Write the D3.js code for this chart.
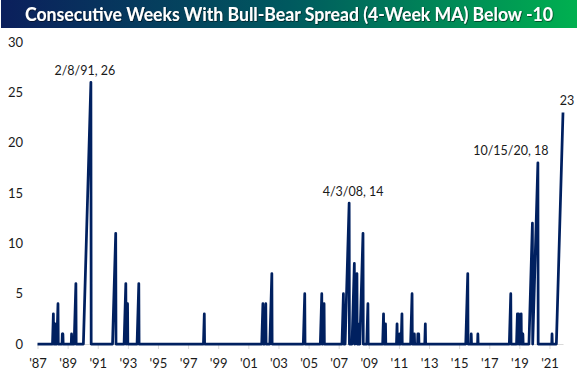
<!DOCTYPE html>
<html>
<head>
<meta charset="utf-8">
<script src="https://cdn.jsdelivr.net/npm/d3@7"></script>
<style>
  body { margin: 0; background: #fff; }
  text { font-family: Lato, "Open Sans", sans-serif; }
</style>
</head>
<body>
<div id="chart"></div>
<script>
const title = "Consecutive Weeks With Bull-Bear Spread (4-Week MA) Below -10";

// weekly series, first and last week shown
const firstWeek = "1987-07-24";
const lastWeek = "2022-06-16";

// each streak: week it ended and how many weeks it ran (series climbs 1..n then back to 0)
const streakEnds = [
  "1988-08-12", "1988-09-23", "1988-12-02", "1989-03-17", "1989-03-31", "1989-10-27",
  "1990-02-09", "1991-02-08", "1992-10-02", "1993-06-04", "1993-07-16", "1994-04-15",
  "1998-08-21", "2002-07-12", "2002-09-20", "2003-02-14", "2005-04-22", "2006-06-09",
  "2006-08-04", "2007-11-16", "2008-04-03", "2008-08-07", "2008-10-09", "2008-11-13",
  "2009-03-05", "2009-07-02", "2010-07-16", "2010-09-02", "2011-06-09", "2011-08-11",
  "2011-10-06", "2012-06-07", "2012-08-02", "2012-10-25", "2012-11-15", "2013-04-25",
  "2016-02-18", "2016-05-12", "2016-10-20", "2018-12-27", "2019-06-06", "2019-07-04",
  "2019-09-05", "2019-10-17", "2020-06-04", "2020-10-15", "2021-09-23", "2022-06-16"
];
const streakLengths = [
  3, 2, 4, 1, 1, 1,
  6, 26, 11, 6, 4, 6,
  3, 4, 4, 7, 5, 5,
  4, 5, 14, 8, 7, 2,
  11, 4, 3, 2, 2, 1,
  3, 5, 1, 1, 1, 2,
  7, 1, 1, 5, 3, 3,
  3, 1, 12, 18, 1, 23
];

const yTicks = [0, 5, 10, 15, 20, 25, 30];
const xTickYears = [1987, 1989, 1991, 1993, 1995, 1997, 1999, 2001, 2003, 2005,
                    2007, 2009, 2011, 2013, 2015, 2017, 2019, 2021];

const labelDates = ["1991-02-08", "2008-04-03", "2020-10-15", "2022-06-16"];
const labelValues = [26, 14, 18, 23];
const labelTexts = ["2/8/91, 26", "4/3/08, 14", "10/15/20, 18", "23"];

const W = 578, H = 374;
const parse = d3.utcParse("%Y-%m-%d");
const week = (d, k) => d3.utcDay.offset(d, 7 * k);

const svg = d3.select("#chart").append("svg")
  .attr("width", W)
  .attr("height", H);

// title bar
const defs = svg.append("defs");
const grad = defs.append("linearGradient").attr("id", "tg")
  .attr("x1", "0%").attr("x2", "100%").attr("y1", "0%").attr("y2", "0%");
grad.append("stop").attr("offset", "0%").attr("stop-color", "#0b1f5c");
grad.append("stop").attr("offset", "50%").attr("stop-color", "#00595f");
grad.append("stop").attr("offset", "100%").attr("stop-color", "#00b050");
const shadow = defs.append("filter").attr("id", "ts")
  .attr("x", "-5%").attr("y", "-30%").attr("width", "110%").attr("height", "160%");
shadow.append("feDropShadow").attr("dx", 0.6).attr("dy", 0.6).attr("stdDeviation", 0.7)
  .attr("flood-color", "#000").attr("flood-opacity", 0.8);

svg.append("rect")
  .attr("x", 1).attr("y", 0)
  .attr("width", W - 2).attr("height", 28)
  .attr("fill", "url(#tg)");
svg.append("text")
  .attr("x", 289).attr("y", 20.5)
  .attr("text-anchor", "middle")
  .attr("fill", "#fff")
  .attr("font-weight", "bold")
  .attr("font-size", 18.5)
  .attr("textLength", 528)
  .attr("lengthAdjust", "spacingAndGlyphs")
  .attr("filter", "url(#ts)")
  .text(title);

// scales
const x = d3.scaleUtc()
  .domain([parse(firstWeek), parse(lastWeek)])
  .range([37.5, 563]);
const y = d3.scaleLinear()
  .domain([0, 30])
  .range([344, 42]);

// y axis (labels only)
const yAxis = svg.append("g")
  .attr("transform", "translate(37.5,0)")
  .call(d3.axisLeft(y).tickValues(yTicks).tickSize(0).tickPadding(14.5));
yAxis.select(".domain").remove();
yAxis.selectAll("text").attr("font-size", 13).attr("fill", "#1a1a1a")
  .attr("font-family", "Lato, 'Open Sans', sans-serif");

// x axis
const xAxis = svg.append("g")
  .attr("transform", "translate(0,344)")
  .call(d3.axisBottom(x)
    .tickValues(xTickYears.map(yr => new Date(Date.UTC(yr, 6, 24))))
    .tickFormat(d3.utcFormat("'%y"))
    .tickSize(5).tickSizeOuter(0).tickPadding(9.5));
xAxis.select(".domain").attr("stroke", "#d9d9d9");
xAxis.selectAll(".tick line").attr("stroke", "#d9d9d9");
xAxis.selectAll("text").attr("font-size", 13).attr("fill", "#1a1a1a")
  .attr("font-family", "Lato, 'Open Sans', sans-serif");

// build the weekly count line from the streaks
const end = parse(lastWeek);
const points = [[parse(firstWeek), 0]];
streakEnds.forEach((e, i) => {
  const stop = parse(e), n = streakLengths[i];
  const start = week(stop, -(n - 1));
  points.push([week(start, -1), 0], [start, 1], [stop, n]);
  if (week(stop, 1) <= end) points.push([week(stop, 1), 0]);
});

svg.append("path")
  .datum(points)
  .attr("fill", "none")
  .attr("stroke", "#002060")
  .attr("stroke-width", 2.75)
  .attr("stroke-linejoin", "round")
  .attr("d", d3.line().x(d => x(d[0])).y(d => y(d[1])));

// peak labels
const labelShift = [-6, 4, -27, 4];
svg.selectAll(".peak")
  .data(labelTexts)
  .join("text")
  .attr("class", "peak")
  .attr("x", (d, i) => x(parse(labelDates[i])) + labelShift[i])
  .attr("y", (d, i) => y(labelValues[i]) - 7.5)
  .attr("text-anchor", "middle")
  .attr("font-size", 12.5)
  .attr("fill", "#1a1a1a")
  .text(d => d);
</script>
</body>
</html>
